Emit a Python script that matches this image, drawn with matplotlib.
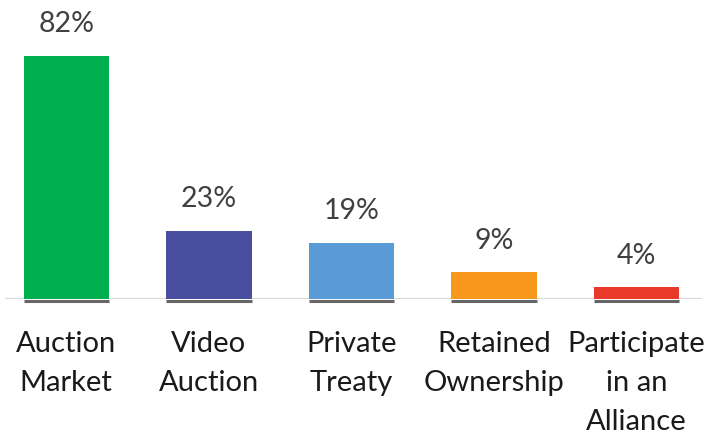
import matplotlib
matplotlib.use("Agg")
import matplotlib.pyplot as plt

categories = ["Auction\nMarket", "Video\nAuction", "Private\nTreaty", "Retained\nOwnership", "Participate\nin an\nAlliance"]
values = [82, 23, 19, 9, 4]
colors = ["#00B050", "#4A4E9F", "#5B9BD5", "#F7981D", "#E8392A"]

plt.rcParams['font.family'] = ['Lato', 'DejaVu Sans']

fig = plt.figure(figsize=(7.08, 4.35), dpi=100)
ax = fig.add_axes([5/708, 1 - 300/435, 697/708, 300/435])

x = list(range(len(values)))
ax.bar(x, values, width=0.6, color=colors, zorder=2)
ax.set_xlim(-0.43, 4.46)
ax.set_ylim(0, 101.2)

# baseline
ax.axhline(0, color="#D9D9D9", lw=1.5, zorder=1)
for xi in x:
    ax.hlines(-0.6, xi - 0.3, xi + 0.3, color="#666666", lw=2.2, zorder=3, clip_on=False)

for xi, v in zip(x, values):
    ax.annotate(f"{v}%", (xi, v), xytext=(0, 23.5), textcoords="offset points",
                ha="center", va="center", fontsize=20.5, color="#404040")

ax.set_xticks(x)
ax.set_xticklabels(categories, fontsize=21, color="#1a1a1a", linespacing=1.63, va="top")
ax.tick_params(axis="x", length=0, pad=22)
ax.set_yticks([])
for s in ax.spines.values():
    s.set_visible(False)

fig.savefig("out.png", dpi=100)
